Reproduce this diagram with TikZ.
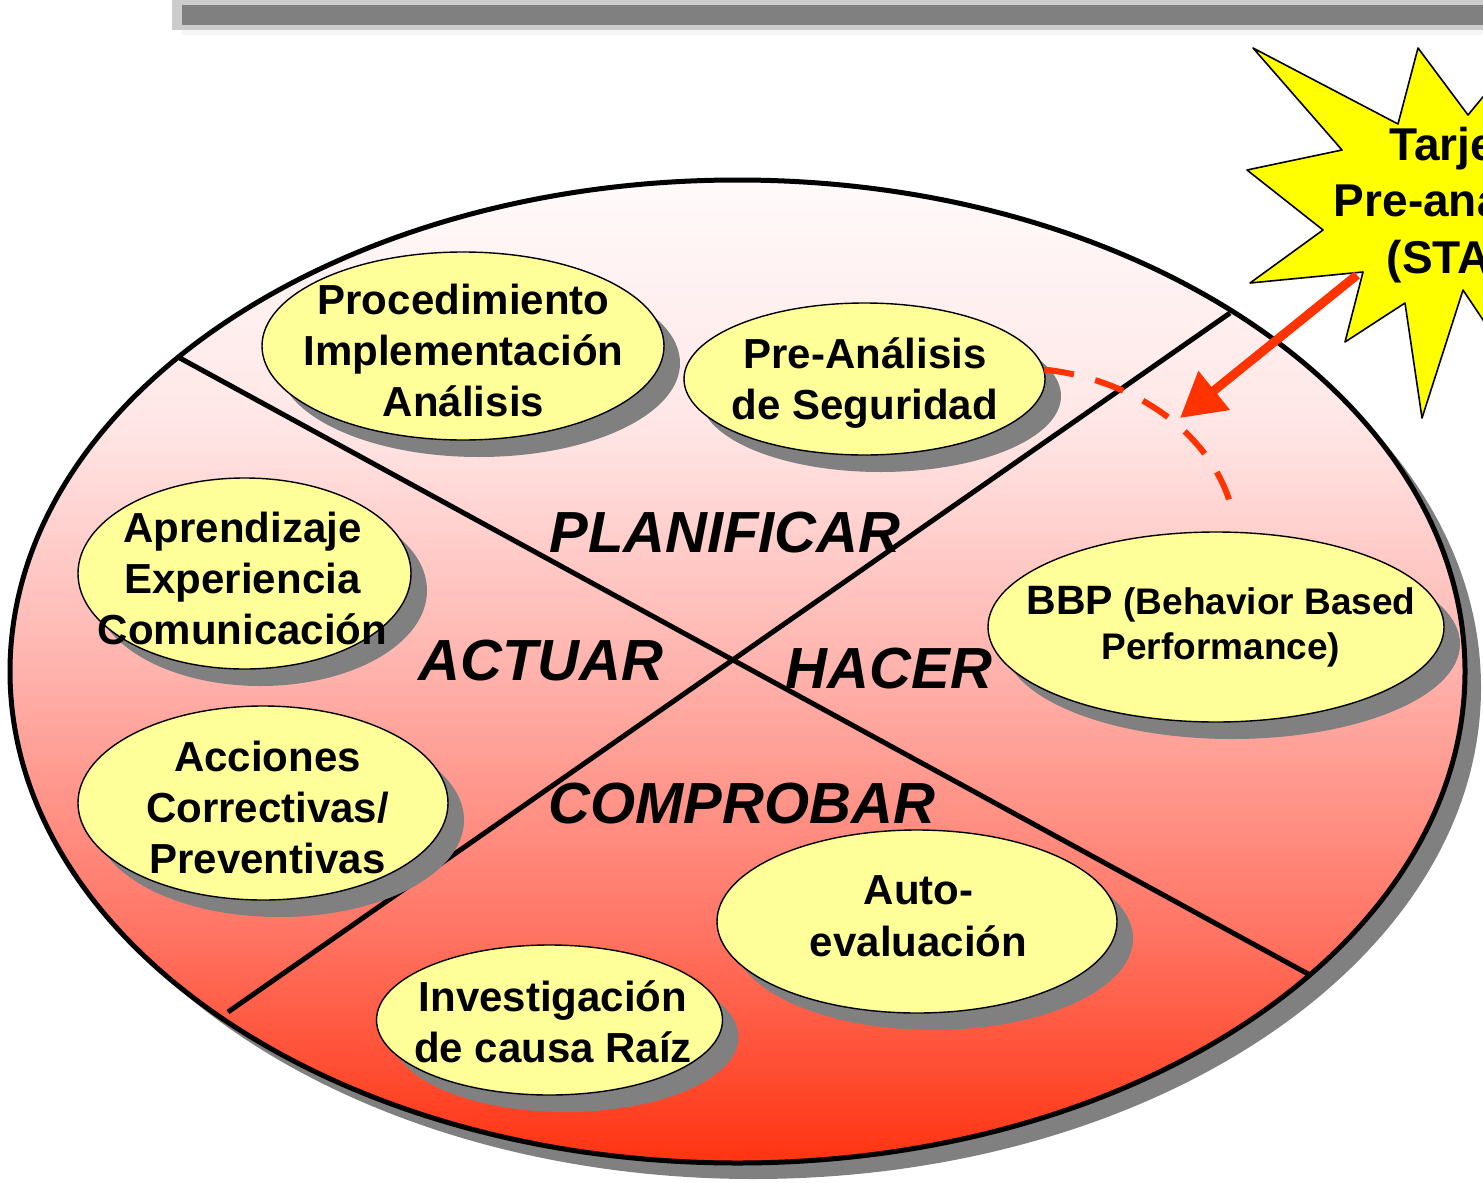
\documentclass[tikz,border=0pt]{standalone}
\usepackage{fontspec}
\setmainfont{Liberation Sans}
\usetikzlibrary{shapes.geometric,shadows,arrows.meta}
\definecolor{pdcTop}{HTML}{FFFAFA}
\definecolor{pdcUp}{HTML}{FFE6E6}
\definecolor{pdcMid}{HTML}{FFB2AC}
\definecolor{pdcLow}{HTML}{FF7868}
\definecolor{pdcBot}{HTML}{FF3311}
\definecolor{bubblefill}{HTML}{FFFF99}
\definecolor{starfill}{HTML}{FFFF00}
\definecolor{linkred}{HTML}{FF3300}
\definecolor{shadowgray}{HTML}{808080}
\pgfdeclareverticalshading{pdcshading}{100bp}{color(0bp)=(pdcBot); color(25bp)=(pdcBot); color(37.5bp)=(pdcLow); color(50bp)=(pdcMid); color(62.5bp)=(pdcUp); color(75bp)=(pdcTop); color(100bp)=(pdcTop)}
\begin{document}
\begin{tikzpicture}[x=1pt,y=-1pt,line join=round,
	bubble/.style={ellipse,draw,line width=1.4pt,fill=bubblefill,inner sep=0pt,
		drop shadow={shadow xshift=16pt,shadow yshift=-17pt,fill=shadowgray,opacity=1}},
	bubbletext/.style={align=center,inner sep=0pt,font=\fontsize{42}{51}\selectfont\bfseries},
	phase/.style={anchor=base,inner sep=0pt,font=\fontsize{58}{60}\selectfont\bfseries\itshape}]
	\useasboundingbox (0,0) rectangle (1483,1183);
	\clip (0,0) rectangle (1483,1183);
	% bar on top
	\fill[gray!40] (172,0) rectangle (1483,30);
	\fill[shadowgray] (182,5) rectangle (1483,25);
	\fill[gray!8] (182,30) rectangle (1483,35);
	% big ellipse and the cross
	\path (737.5,671.5) coordinate (O)
		(178,357) coordinate (NW)
		(1230,313) coordinate (NE)
		(1310,975) coordinate (SE)
		(228,1012) coordinate (SW);
	\fill[shadowgray] ([shift={(16,16)}]O) ellipse [x radius=727.5pt,y radius=491.5pt];
	\shade[shading=pdcshading] (O) ellipse [x radius=727.5pt,y radius=491.5pt];
	\draw[line width=5pt] (O) ellipse [x radius=727.5pt,y radius=491.5pt];
	\draw[line width=5pt] (NW)--(SE) (SW)--(NE);
	% bubbles
	\node[bubble,minimum width=402pt,minimum height=188pt] (proc) at (463,346) {};
	\node[bubble,minimum width=361pt,minimum height=152pt] (pre) at (864.5,379) {};
	\node[bubble,minimum width=333pt,minimum height=191pt] (apr) at (244.5,573.5) {};
	\node[bubble,minimum width=370pt,minimum height=194pt] (acc) at (263,803) {};
	\node[bubble,minimum width=456pt,minimum height=190pt] (bbp) at (1216,627) {};
	\node[bubble,minimum width=400pt,minimum height=183pt] (auto) at (917,921.5) {};
	\node[bubble,minimum width=346pt,minimum height=150pt] (inv) at (549.5,1020) {};
	\node[bubbletext] at (463.5,350) {Procedimiento\\Implementación\\Análisis};
	\node[bubbletext] at (865,383) {Pre-Análisis\\de Seguridad};
	\node[bubbletext] at (242.5,578) {Aprendizaje\\Experiencia\\Comunicación};
	\node[bubbletext] at (267.5,807.5) {Acciones\\Correctivas/\\Preventivas};
	\node[bubbletext] at (553,1022) {Investigación\\de causa Raíz};
	\node[bubbletext,font=\fontsize{42}{52}\selectfont\bfseries] at (918.5,916) {Auto-\\evaluación};
	\node[bubbletext,font=\fontsize{37}{45}\selectfont\bfseries] at (1221,627) {{\fontsize{41}{45}\selectfont BBP} (Behavior Based\\Performance)};
	% phases
	\node[phase] (plan) at (725,552) {PLANIFICAR};
	\node[phase] (act) at (541,680) {ACTUAR};
	\node[phase] (do) at (889,688) {HACER};
	\node[phase] (check) at (742,823) {COMPROBAR};
	% link to the card
	\draw[linkred,line width=6pt,dash pattern=on 30pt off 22pt,shorten >=12pt]
		(pre.3) .. controls (1140,380) and (1220,440) .. (bbp.78);
	\draw[line width=1.6pt,fill=starfill] (1253,48)--(1398,124)--(1418,48)--(1468,115)--(1530,40)
		--(1600,150)--(1600,330)--(1530,390)--(1463,290)--(1422,418)--(1405,303)--(1345,342)
		--(1363,272)--(1250,283)--(1323,230)--(1247,170)--(1342,150)--cycle;
	\node[bubbletext,font=\fontsize{46}{56.5}\selectfont\bfseries] (card) at (1463,205) {Tarjeta\\Pre-análisis\\(STAR)};
	\path (1357,275) coordinate (cardfoot)
		(1180,418) coordinate (cardtip);
	\draw[linkred,line width=9pt,-{Triangle[length=44pt,width=48pt]}] (cardfoot)--(cardtip);
\end{tikzpicture}
\end{document}
